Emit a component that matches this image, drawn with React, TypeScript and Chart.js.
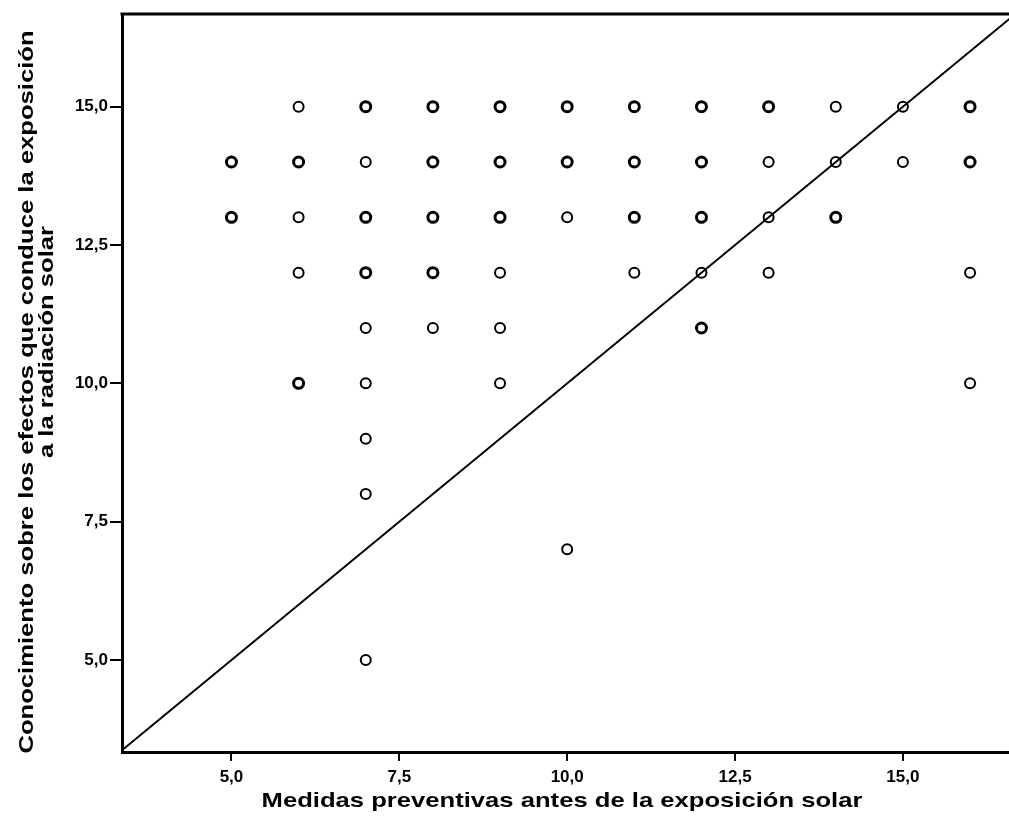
import React, { useEffect, useRef } from "react";
import { Chart, registerables } from "chart.js";

Chart.register(...registerables);

// Coordinates holding a single case
const singleX = [6, 14, 15, 7, 13, 14, 15, 6, 10, 13, 6, 9, 11, 12, 13, 16, 7, 8, 9, 7, 9, 16, 7, 7, 10, 7];
const singleY = [15, 15, 15, 14, 14, 14, 14, 13, 13, 13, 12, 12, 12, 12, 12, 12, 11, 11, 11, 10, 10, 10, 9, 8, 7, 5];

// Coordinates shared by several cases (heavier outline from overprinting)
const repeatedX = [7, 8, 9, 10, 11, 12, 13, 16, 5, 6, 8, 9, 10, 11, 12, 16, 5, 7, 8, 9, 11, 12, 14, 7, 8, 12, 6];
const repeatedY = [15, 15, 15, 15, 15, 15, 15, 15, 14, 14, 14, 14, 14, 14, 14, 14, 13, 13, 13, 13, 13, 13, 13, 12, 12, 11, 10];

// Axis ranges and the y = x reference line
const xRange = [3.37, 16.58];
const yRange = [3.337, 16.675];
const identityLine = [3.337, 16.675];
const tickStep = 2.5;

const xTitle = "Medidas preventivas antes de la exposición solar";
const yTitleLines = [
  "Conocimiento sobre los efectos que conduce la exposición",
  "a la radiación solar",
];

const toPoints = (xs: number[], ys: number[]) => xs.map((x, i) => ({ x, y: ys[i] }));
const formatTick = (v: number | string) => Number(v).toFixed(1).replace(".", ",");

const tickFont = { family: "'Liberation Sans', Arial, sans-serif", size: 17, weight: "bold" as const };
const titleFont = "bold 21px 'Liberation Sans', Arial, sans-serif";
const titleStretch = 1.22;

const framePlugin = {
  id: "frameAndTitles",
  afterDraw(chart: Chart) {
    const { ctx, chartArea } = chart;
    ctx.save();
    // top edge of the frame
    ctx.strokeStyle = "#000";
    ctx.lineWidth = 3;
    ctx.beginPath();
    ctx.moveTo(chartArea.left - 1.5, chartArea.top);
    ctx.lineTo(chartArea.right, chartArea.top);
    ctx.stroke();

    ctx.fillStyle = "#000";
    ctx.font = titleFont;
    ctx.textAlign = "center";
    ctx.textBaseline = "alphabetic";

    const drawText = (text: string, x: number, y: number, angle: number) => {
      ctx.save();
      ctx.translate(x, y);
      ctx.rotate(angle);
      ctx.scale(titleStretch, 1);
      ctx.fillText(text, 0, 0);
      ctx.restore();
    };

    drawText(xTitle, 562, 807, 0);
    drawText(yTitleLines[0], 33, 392, -Math.PI / 2);
    drawText(yTitleLines[1], 53, 342, -Math.PI / 2);

    ctx.restore();
  },
};

export default function App() {
  const canvasRef = useRef<HTMLCanvasElement | null>(null);

  useEffect(() => {
    if (!canvasRef.current) return;
    const chart = new Chart(canvasRef.current, {
      type: "scatter",
      data: {
        datasets: [
          {
            type: "line",
            data: toPoints(identityLine, identityLine),
            borderColor: "#000",
            borderWidth: 2,
            pointRadius: 0,
            fill: false,
          },
          {
            data: toPoints(singleX, singleY),
            pointStyle: "circle",
            pointRadius: 5,
            backgroundColor: "rgba(0,0,0,0)",
            borderColor: "#000",
            borderWidth: 2,
          },
          {
            data: toPoints(repeatedX, repeatedY),
            pointStyle: "circle",
            pointRadius: 5,
            backgroundColor: "rgba(0,0,0,0)",
            borderColor: "#000",
            borderWidth: 3,
          },
        ],
      },
      options: {
        responsive: false,
        animation: false,
        layout: { autoPadding: false, padding: { top: 14, right: 0, bottom: 0, left: 0 } },
        plugins: { legend: { display: false }, tooltip: { enabled: false } },
        scales: {
          x: {
            type: "linear",
            min: xRange[0],
            max: xRange[1],
            afterFit: (s: any) => {
              s.height = 75;
            },
            ticks: {
              stepSize: tickStep,
              includeBounds: false,
              color: "#000",
              font: tickFont,
              padding: 6,
              callback: (v) => formatTick(v),
            },
            grid: { drawOnChartArea: false, drawTicks: true, tickLength: 9, color: "#000", lineWidth: 2 },
            border: { color: "#000", width: 3 },
          },
          y: {
            type: "linear",
            min: yRange[0],
            max: yRange[1],
            afterFit: (s: any) => {
              s.width = 122;
            },
            ticks: {
              stepSize: tickStep,
              includeBounds: false,
              color: "#000",
              font: tickFont,
              padding: 2,
              callback: (v) => formatTick(v),
            },
            grid: { drawOnChartArea: false, drawTicks: true, tickLength: 12, color: "#000", lineWidth: 2 },
            border: { color: "#000", width: 3 },
          },
        },
      },
      plugins: [framePlugin],
    });
    return () => chart.destroy();
  }, []);

  return (
    <div style={{ position: "absolute", left: 0, top: 0, width: 1009, height: 827, background: "#fff" }}>
      <canvas ref={canvasRef} width={1009} height={827} style={{ display: "block" }} />
    </div>
  );
}
